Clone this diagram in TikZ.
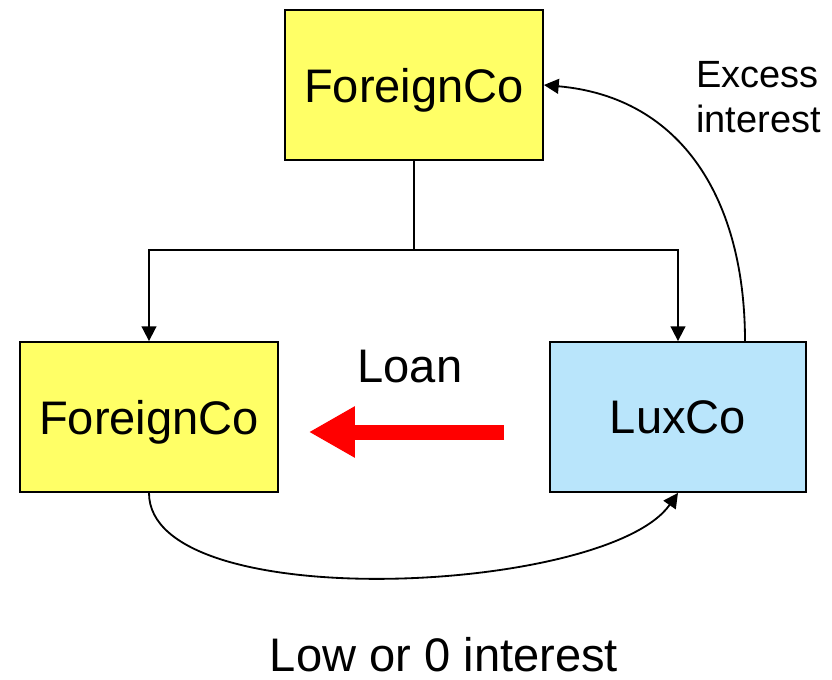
\documentclass[tikz,border=0pt]{standalone}
\usepackage{fontspec}
\setmainfont{Liberation Sans}
\usetikzlibrary{arrows.meta}
\definecolor{fyellow}{RGB}{255,255,102}
\definecolor{lblue}{RGB}{185,229,251}

\begin{document}
\begin{tikzpicture}[
  box/.style={draw, line width=1.3pt, minimum width=6.45cm, minimum height=3.75cm,
    inner sep=0pt, text depth=0pt, font=\fontsize{33.5}{38}\selectfont},
  conn/.style={line width=1.3pt, -{Triangle[length=0.37cm,width=0.37cm]}},
  lbl/.style={inner sep=0pt, font=\fontsize{33.5}{38}\selectfont}]
\useasboundingbox (0,0) rectangle (20.8,-17);

\node[box, fill=fyellow] (A) at (10.35,-2.125) {ForeignCo};
\node[box, fill=fyellow] (B) at (3.725,-10.425) {ForeignCo};
\node[box, fill=lblue, minimum width=6.4cm] (C) at (16.95,-10.425) {LuxCo};
\coordinate (J) at (10.35,-6.25);

\draw[line width=1.3pt] (A) -- (J);
\draw[conn] (J) -| (B);
\draw[conn] (J) -| (C);

\draw[conn] ([xshift=1.675cm]C.north) to[out=90, in=-5, looseness=1.1] (A.east);
\draw[conn] (B.south) to[out=-90, in=-125, looseness=0.6] (C.south);

% loan
\coordinate (L1) at (12.6,-10.8);
\coordinate (L2) at (7.72,-10.8);
\draw[red, line width=0.375cm, -{Triangle[length=1.15cm,width=1.2cm]}] (L1) -- (L2);

\node[lbl, text depth=0pt] (loan) at (10.25,-9.15) {Loan};
\node[lbl, anchor=north west, align=left, font=\fontsize{27}{32}\selectfont] (exc) at (17.4,-1.52) {Excess\\interest};
\node[lbl, anchor=base] (low) at (11.1,-16.78) {Low or 0 interest};
\end{tikzpicture}
\end{document}
